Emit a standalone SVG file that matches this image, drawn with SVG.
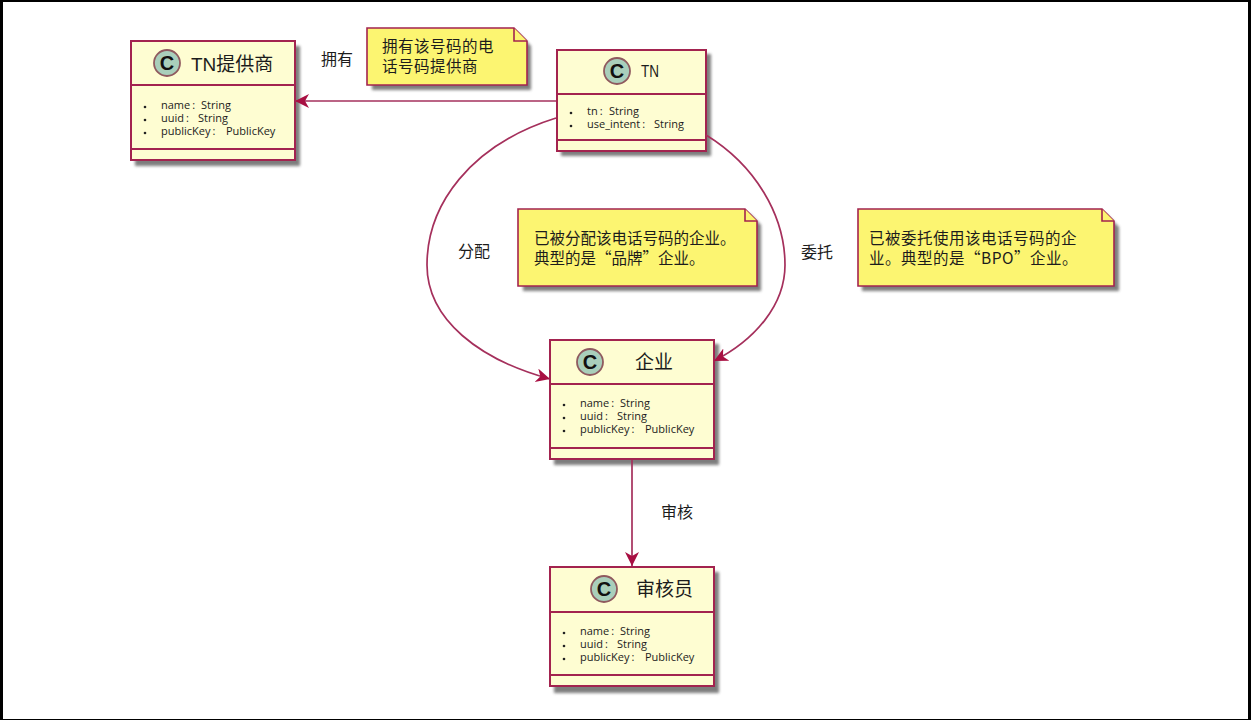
<svg xmlns="http://www.w3.org/2000/svg" width="1252" height="720" viewBox="0 0 1252 720">
<style>
text{font-family:"Open Sans","Noto Sans","Noto Sans CJK SC",sans-serif;fill:#1c1c1c}
.box{fill:#fefdd2;stroke:#a3234f;stroke-width:2}
.sh{fill:#6f6f6f;opacity:.9;filter:url(#b)}
.div{stroke:#a3234f;stroke-width:2;fill:none}
.c{fill:#a9cfbb;stroke:#8f5a5f;stroke-width:1.8}
.cl{font:bold 20px "Liberation Sans",sans-serif;fill:#111;text-anchor:middle}
.t{font-size:19px;font-family:"Liberation Sans","Noto Sans CJK SC",sans-serif}
.m{font-size:11px}
.dot{fill:#222}
.note{fill:#fcf571;stroke:#a3234f;stroke-width:1.6}
.n{font-size:15.5px;font-family:"Noto Sans CJK SC",sans-serif}
.w{letter-spacing:.5px}
.l{font-size:16px;font-family:"Noto Sans CJK SC",sans-serif}
.e{fill:none;stroke:#a5305c;stroke-width:1.7}
.h{fill:#a80f42}
</style>
<defs>
<filter id="b" x="-10%" y="-10%" width="120%" height="120%"><feGaussianBlur stdDeviation="1.8"/></filter>
<marker id="a" markerUnits="userSpaceOnUse" markerWidth="20" markerHeight="16" refX="14" refY="7" orient="auto"><path class="h" d="M0 0L14 7L0 14L4 7Z"/></marker>
</defs>
<rect width="1252" height="720" fill="#fff"/>
<rect x="0" y="0" width="1251" height="2" fill="#000"/>
<rect x="0" y="0" width="3" height="720" fill="#000"/>
<rect x="0" y="719" width="1251" height="1" fill="#000"/>
<rect x="1248" y="0" width="3" height="720" fill="#000"/>
<g id="node-provider">
<rect class="sh" x="135" y="46" width="165" height="120"/>
<rect class="box" x="131" y="41" width="164" height="119"/>
<path class="div" d="M131 85H295M131 149H295"/>
<circle class="c" cx="167" cy="63" r="13"/>
<text class="cl" x="167" y="70">C</text>
<text class="t" x="191" y="71">TN提供商</text>
<circle class="dot" cx="145" cy="107" r="1.3"/><circle class="dot" cx="145" cy="120" r="1.3"/><circle class="dot" cx="145" cy="133" r="1.3"/>
<text class="m" x="161" y="109">name<tspan dx="2">:</tspan><tspan x="201">String</tspan></text>
<text class="m" x="161" y="122">uuid<tspan dx="2">:</tspan><tspan x="198">String</tspan></text>
<text class="m" x="161" y="135">publicKey<tspan dx="2">:</tspan><tspan x="226">PublicKey</tspan></text>
</g>
<g id="node-tn">
<rect class="sh" x="561" y="54" width="150" height="102"/>
<rect class="box" x="557" y="50" width="149" height="101"/>
<path class="div" d="M557 94H706M557 140H706"/>
<circle class="c" cx="617" cy="71" r="13"/>
<text class="cl" x="617" y="78">C</text>
<text class="t" x="641" y="77" style="font-size:17px" textLength="18" lengthAdjust="spacingAndGlyphs">TN</text>
<circle class="dot" cx="571" cy="113" r="1.3"/><circle class="dot" cx="571" cy="126" r="1.3"/>
<text class="m" x="587" y="115">tn<tspan dx="2">:</tspan><tspan x="609">String</tspan></text>
<text class="m" x="587" y="128">use_intent<tspan dx="2">:</tspan><tspan x="654">String</tspan></text>
</g>
<g id="node-enterprise">
<rect class="sh" x="554" y="344" width="165" height="121"/>
<rect class="box" x="550" y="340" width="164" height="119"/>
<path class="div" d="M550 384H714M550 448H714"/>
<circle class="c" cx="590" cy="362" r="13"/>
<text class="cl" x="590" y="369">C</text>
<text class="t" x="635" y="369">企业</text>
<circle class="dot" cx="564" cy="405" r="1.3"/><circle class="dot" cx="564" cy="418" r="1.3"/><circle class="dot" cx="564" cy="431" r="1.3"/>
<text class="m" x="580" y="407">name<tspan dx="2">:</tspan><tspan x="620">String</tspan></text>
<text class="m" x="580" y="420">uuid<tspan dx="2">:</tspan><tspan x="617">String</tspan></text>
<text class="m" x="580" y="433">publicKey<tspan dx="2">:</tspan><tspan x="645">PublicKey</tspan></text>
</g>
<g id="node-auditor">
<rect class="sh" x="554" y="572" width="165" height="121"/>
<rect class="box" x="550" y="567" width="164" height="119"/>
<path class="div" d="M550 612H714M550 675H714"/>
<circle class="c" cx="604" cy="589" r="13"/>
<text class="cl" x="604" y="596">C</text>
<text class="t" x="636" y="596">审核员</text>
<circle class="dot" cx="564" cy="633" r="1.3"/><circle class="dot" cx="564" cy="646" r="1.3"/><circle class="dot" cx="564" cy="659" r="1.3"/>
<text class="m" x="580" y="635">name<tspan dx="2">:</tspan><tspan x="620">String</tspan></text>
<text class="m" x="580" y="648">uuid<tspan dx="2">:</tspan><tspan x="617">String</tspan></text>
<text class="m" x="580" y="661">publicKey<tspan dx="2">:</tspan><tspan x="645">PublicKey</tspan></text>
</g>
<g id="note-provider">
<path class="sh" d="M372 33H518L531 46V90H372Z"/>
<path class="note" d="M367 28H514L527 41V85H367Z"/>
<path class="note" d="M514 28V41H527"/>
<text class="n w" x="382" y="52">拥有该号码的电<tspan x="382" y="72">话号码提供商</tspan></text>
</g>
<g id="note-assigned">
<path class="sh" d="M523 214H750L761 225V291H523Z"/>
<path class="note" d="M518 209H745L757 221V286H518Z"/>
<path class="note" d="M745 209V221H757"/>
<text class="n" x="534" y="244">已被分配该电话号码的企业。<tspan x="534" y="264">典型的是“品牌”企业。</tspan></text>
</g>
<g id="note-delegated">
<path class="sh" d="M862 214H1106L1119 227V291H862Z"/>
<path class="note" d="M858 209H1102L1114 221V286H858Z"/>
<path class="note" d="M1102 209V221H1114"/>
<text class="n w" x="869" y="244">已被委托使用该电话号码的企<tspan x="869" y="264">业。典型的是“BPO”企业。</tspan></text>
</g>
<g id="connectors">
<path class="e" d="M556 101H295" marker-end="url(#a)"/>
<path class="e" d="M556 118C470 145 427 205 427 265C427 320 480 360 550 379" marker-end="url(#a)"/>
<path class="e" d="M706 135C755 165 785 215 785 265C785 305 755 340 714 361" marker-end="url(#a)"/>
<path class="e" d="M632 460V566" marker-end="url(#a)"/>
<text class="l" x="321" y="65">拥有</text>
<text class="l" x="458" y="257">分配</text>
<text class="l" x="801" y="258">委托</text>
<text class="l" x="661" y="518">审核</text>
</g>
</svg>
